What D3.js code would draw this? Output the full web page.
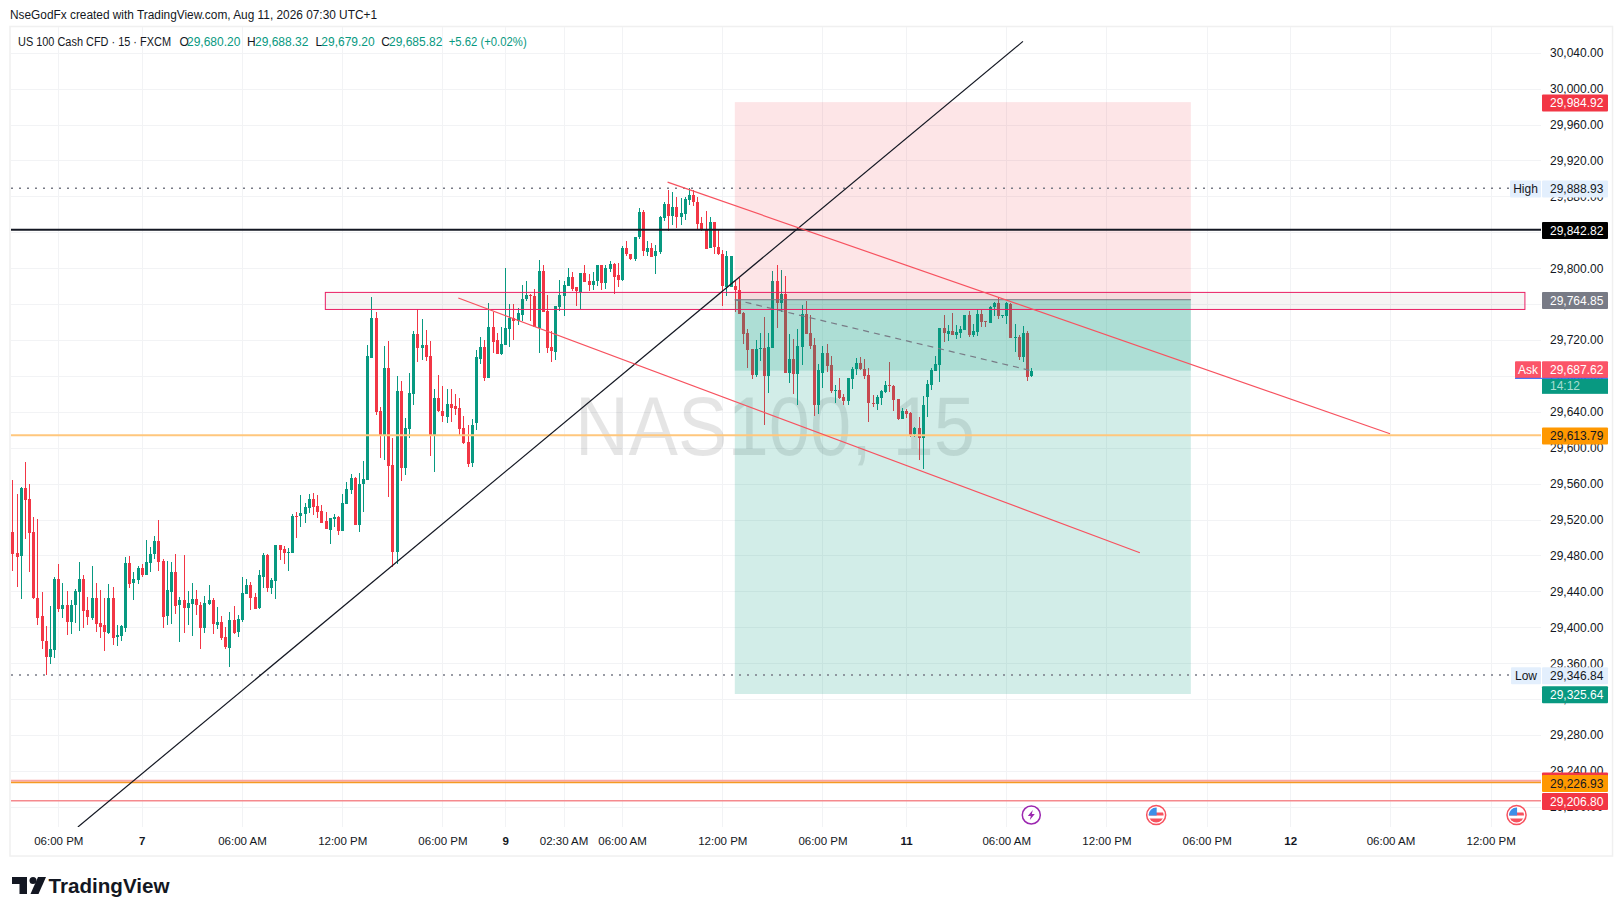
<html>
<head>
<style>
  body { margin: 0; background: #fff; }
  text { font-family: "Liberation Sans", sans-serif; }
</style>
</head>
<body>
<svg id="svg" width="1623" height="916"></svg>
<script src="https://d3js.org/d3.v7.min.js"></script>
<script>

// 15 minute candles, left to right
var opens = [
29506,29483,29479,29555,29543,29506,29433,29412,29385,29367,
29375,29454,29421,29425,29406,29424,29439,29454,29419,29411,
29433,29405,29402,29394,29433,29389,29390,29400,29472,29449,
29453,29466,29458,29472,29481,29496,29474,29412,29440,29462,
29424,29430,29421,29425,29431,29425,29399,29425,29430,29403,
29406,29389,29377,29408,29394,29408,29437,29447,29434,29421,
29457,29481,29444,29452,29492,29487,29483,29483,29524,29524,
29526,29533,29543,29535,29530,29518,29509,29521,29523,29507,
29537,29553,29566,29514,29559,29564,29701,29745,29641,29613,
29689,29581,29484,29663,29577,29621,29660,29727,29711,29714,
29702,29614,29655,29641,29635,29649,29646,29644,29622,29606,
29583,29628,29699,29712,29678,29735,29720,29704,29714,29732,
29744,29741,29748,29765,29770,29769,29734,29797,29752,29712,
29707,29757,29769,29780,29790,29779,29774,29795,29786,29781,
29785,29803,29783,29799,29805,29792,29786,29822,29816,29810,
29834,29862,29819,29823,29813,29818,29855,29871,29858,29868,
29857,29860,29875,29881,29874,29850,29844,29822,29851,29824,
29816,29780,29780,29780,29776,29750,29728,29710,29681,29710,
29711,29680,29711,29786,29761,29771,29683,29699,29682,29712,
29749,29728,29714,29647,29684,29706,29692,29663,29664,29657,
29652,29677,29687,29694,29688,29681,29650,29649,29655,29662,
29670,29669,29654,29632,29641,29639,29615,29622,29611,29657,
29670,29685,29692,29733,29727,29730,29726,29728,29731,29748,
29726,29729,29749,29741,29739,29757,29761,29747,29746,29760,
29722,29723,29701,29728,29680.2];

var closes = [
29482,29479,29555,29542,29505,29432,29411,29384,29367,29376,
29454,29421,29425,29406,29425,29440,29454,29418,29411,29433,
29404,29401,29394,29433,29389,29391,29401,29472,29449,29454,
29466,29458,29473,29482,29496,29473,29412,29441,29462,29424,
29430,29421,29427,29431,29424,29399,29427,29430,29403,29406,
29388,29378,29408,29394,29409,29438,29447,29433,29421,29458,
29481,29444,29453,29492,29486,29482,29484,29524,29523,29527,
29534,29543,29534,29528,29517,29509,29522,29523,29507,29538,
29554,29566,29514,29560,29565,29702,29745,29640,29613,29689,
29580,29484,29663,29577,29622,29661,29727,29711,29714,29701,
29614,29655,29640,29635,29649,29645,29643,29621,29605,29581,
29625,29701,29712,29678,29735,29718,29704,29715,29733,29744,
29741,29750,29766,29770,29769,29734,29797,29751,29711,29707,
29758,29770,29781,29790,29777,29774,29795,29785,29781,29786,
29803,29783,29800,29805,29791,29786,29822,29815,29810,29835,
29862,29819,29823,29813,29819,29857,29871,29858,29868,29857,
29861,29877,29881,29873,29849,29843,29822,29851,29823,29816,
29780,29814,29814,29775,29749,29727,29709,29681,29710,29711,
29680,29712,29786,29761,29771,29683,29699,29682,29713,29749,
29727,29713,29647,29686,29706,29691,29663,29664,29655,29652,
29678,29688,29694,29687,29680,29650,29649,29657,29663,29670,
29669,29653,29632,29641,29638,29615,29622,29611,29648,29671,
29687,29693,29733,29727,29730,29726,29729,29732,29748,29726,
29730,29749,29740,29740,29757,29761,29746,29748,29761,29722,
29723,29701,29728,29679,29685.82];

var highs = [
29564,29548,29556,29584,29560,29523,29521,29439,29401,29424,
29456,29471,29449,29440,29430,29443,29473,29458,29434,29468,
29449,29442,29433,29448,29445,29402,29402,29478,29479,29462,
29468,29470,29497,29489,29502,29519,29476,29474,29473,29482,
29434,29481,29440,29449,29442,29428,29435,29447,29433,29423,
29412,29400,29417,29424,29414,29456,29454,29450,29438,29464,
29483,29482,29455,29492,29492,29490,29488,29526,29528,29547,
29538,29548,29550,29547,29536,29528,29522,29526,29524,29548,
29562,29571,29567,29572,29585,29714,29768,29751,29645,29713,
29719,29611,29680,29674,29633,29683,29730,29755,29743,29731,
29719,29665,29681,29669,29665,29665,29660,29655,29635,29625,
29632,29709,29723,29720,29761,29751,29728,29734,29800,29760,
29760,29756,29781,29786,29771,29777,29809,29804,29770,29730,
29758,29787,29786,29800,29796,29779,29795,29804,29794,29796,
29803,29804,29803,29808,29806,29806,29825,29830,29816,29835,
29867,29865,29830,29828,29826,29858,29874,29887,29885,29879,
29878,29879,29888.93,29887,29879,29857,29864,29857,29851,29843,
29820,29819,29814,29786,29789,29751,29732,29710,29720,29728,
29746,29728,29797,29804,29798,29791,29727,29721,29732,29759,
29763,29748,29722,29693,29713,29716,29702,29670,29678,29660,
29678,29690,29700,29701,29699,29689,29659,29659,29664,29674,
29696,29670,29654,29644,29643,29640,29623,29634,29658,29675,
29689,29702,29733,29748,29737,29750,29737,29736,29748,29752,
29738,29755,29753,29741,29758,29762,29768,29748,29762,29761,
29738,29725,29736,29730,29688.32];

var lows = [
29463,29445,29432,29498,29462,29431,29403,29376,29346.84,29359,
29366,29417,29410,29391,29392,29405,29396,29399,29403,29408,
29395,29388,29373,29393,29380,29379,29385,29395,29444,29430,
29448,29456,29458,29462,29476,29463,29399,29402,29404,29415,
29384,29394,29403,29390,29414,29376,29394,29425,29392,29398,
29386,29376,29356,29393,29389,29406,29437,29419,29421,29420,
29444,29439,29437,29432,29475,29470,29463,29483,29499,29512,
29516,29527,29525,29522,29517,29509,29493,29512,29503,29507,
29537,29548,29514,29506,29528,29564,29701,29636,29589,29586,
29545,29467,29470,29563,29570,29611,29648,29696,29698,29697,
29591,29573,29640,29629,29628,29629,29636,29614,29604,29578,
29578,29620,29693,29674,29678,29705,29704,29703,29714,29712,
29720,29737,29741,29763,29741,29734,29706,29751,29706,29695,
29698,29752,29747,29780,29775,29758,29755,29785,29774,29776,
29780,29776,29777,29796,29771,29779,29786,29813,29809,29808,
29833,29813,29813,29812,29793,29816,29853,29841,29848,29845,
29848,29854,29870,29869,29842,29841,29822,29822,29816,29815,
29758,29769,29779,29751,29749,29716,29689,29677,29679,29697,
29625,29661,29711,29733,29751,29683,29672,29660,29648,29692,
29727,29710,29635,29638,29667,29684,29661,29650,29654,29648,
29648,29665,29681,29686,29676,29629,29645,29642,29648,29661,
29662,29641,29631,29632,29633,29612,29612,29586,29576,29634,
29664,29685,29673,29718,29719,29726,29721,29722,29731,29723,
29723,29724,29734,29734,29739,29747,29743,29745,29738,29722,
29707,29698,29695,29674,29679.2];

var priceTicks = d3.range(29200, 30041, 40);

var timeIdx = [11,31,55,79,103,118,132,146,170,194,214,238,262,286,306,330,354];
var timeLabels = ["06:00 PM","7","06:00 AM","12:00 PM","06:00 PM","9","02:30 AM","06:00 AM","12:00 PM","06:00 PM","11","06:00 AM","12:00 PM","06:00 PM","12","06:00 AM","12:00 PM"];
var dateLabels = ["7","9","11","12"];

// drawings, as [bar index, price]
var blackTrend = [[15.7,29177.5],[242,30052.6]];
var upperChannel = [[156.9,29895.8],[329.9,29615.6]];
var lowerChannel = [[106.8,29766.7],[270,29483]];
var zoneBars = [74.95,362.2];
var zonePrices = [29773,29754];
var posBars = [173,282.2];
var posEntry = 29764.85, posStop = 29984.92, posTarget = 29325.64;
var lastClose = 29685.82;
var eventBars = [244,273.9,360.2];

var hLines = [
  {p:29888.93, c:"#787b86", w:1.5, dash:"2,6"},
  {p:29346.84, c:"#787b86", w:1.5, dash:"2,6"},
  {p:29842.82, c:"#131722", w:2},
  {p:29613.79, c:"#ffc77d", w:2},
  {p:29229, c:"#f9a5a5", w:2},
  {p:29226.93, c:"#f59a23", w:1.5},
  {p:29206.8, c:"#f58a8e", w:1.5}
];

var priceBoxes = [
  {p:29984.92, t:"29,984.92", bg:"#f23645", fg:"#fff"},
  {p:29888.93, t:"29,888.93", bg:"#e3effd", fg:"#131722"},
  {p:29842.82, t:"29,842.82", bg:"#000", fg:"#fff"},
  {p:29764.85, t:"29,764.85", bg:"#787b86", fg:"#fff"},
  {p:29687.62, t:"29,687.62", bg:"#fb5468", fg:"#fff"},
  {p:29613.79, t:"29,613.79", bg:"#ff9800", fg:"#131722"},
  {p:29346.84, t:"29,346.84", bg:"#e3effd", fg:"#131722"},
  {p:29325.64, t:"29,325.64", bg:"#089981", fg:"#fff"},
  {p:29229.5, t:"", bg:"#f23645", fg:"#fff"},
  {p:29226.93, t:"29,226.93", bg:"#ff9800", fg:"#131722"},
  {p:29206.80, t:"29,206.80", bg:"#f23645", fg:"#fff"}
];
var sideTags = [
  {p:29888.93, t:"High", bg:"#e3effd", fg:"#131722", w:31},
  {p:29346.84, t:"Low", bg:"#e3effd", fg:"#131722", w:30},
  {p:29687.62, t:"Ask", bg:"#fb5468", fg:"#fff", w:26}
];

var UP = "#089981", DOWN = "#f23645";
var paneL = 11, paneR = 1541, paneT = 27, paneB = 827;

var x = d3.scaleLinear().domain([0,244]).range([12.33,1031.3]);
var y = d3.scaleLinear().domain([30040,29200]).range([52.7,806.8]);
var svg = d3.select("#svg");

// frame
svg.append("rect").attr("x",10).attr("y",26.5).attr("width",1602.5).attr("height",829.5)
  .attr("fill","#fff").attr("stroke","#f0f0f0").attr("stroke-width",1.5);

svg.append("clipPath").attr("id","pane").append("rect")
  .attr("x",paneL).attr("y",paneT).attr("width",paneR-paneL).attr("height",paneB-paneT);

var pane = svg.append("g").attr("clip-path","url(#pane)");

// grid
pane.selectAll("line.gy").data(priceTicks).join("line").classed("gy",true)
  .attr("x1",paneL).attr("x2",paneR).attr("y1",d=>Math.round(y(d))+0.5).attr("y2",d=>Math.round(y(d))+0.5)
  .attr("stroke","#f2f3f5");
pane.selectAll("line.gx").data(timeIdx).join("line").classed("gx",true)
  .attr("y1",paneT).attr("y2",paneB).attr("x1",d=>Math.round(x(d))+0.5).attr("x2",d=>Math.round(x(d))+0.5)
  .attr("stroke","#f2f3f5");

// watermark
pane.append("text").attr("x",775).attr("y",455).attr("text-anchor","middle")
  .attr("font-size",84).attr("textLength",400).attr("lengthAdjust","spacingAndGlyphs")
  .attr("fill","#000").attr("fill-opacity",0.1).text("NAS100, 15");

// candles
var bars = pane.selectAll("g.bar").data(opens).join("g").classed("bar",true)
  .attr("shape-rendering","crispEdges");
bars.append("line")
  .attr("x1",(d,i)=>Math.round(x(i))+0.5).attr("x2",(d,i)=>Math.round(x(i))+0.5)
  .attr("y1",(d,i)=>y(highs[i])).attr("y2",(d,i)=>y(lows[i]))
  .attr("stroke",(d,i)=>closes[i]>=d?UP:DOWN);
bars.append("rect")
  .attr("x",(d,i)=>Math.round(x(i))-1).attr("width",3)
  .attr("y",(d,i)=>Math.round(y(Math.max(d,closes[i]))))
  .attr("height",(d,i)=>Math.max(1,Math.round(Math.abs(y(d)-y(closes[i])))))
  .attr("fill",(d,i)=>closes[i]>=d?UP:DOWN);

// position tool
function band(p1,p2,fill) {
  pane.append("rect").attr("x",x(posBars[0])).attr("width",x(posBars[1])-x(posBars[0]))
    .attr("y",y(p1)).attr("height",y(p2)-y(p1)).attr("fill",fill);
}
band(posStop,posEntry,"rgba(242,54,69,0.13)");
band(posEntry,posTarget,"rgba(8,153,129,0.18)");
band(posEntry,lastClose,"rgba(8,153,129,0.18)");
pane.append("line").attr("x1",x(posBars[0])).attr("x2",x(posBars[1]))
  .attr("y1",y(posEntry)).attr("y2",y(posEntry)).attr("stroke","#787b86");
pane.append("line").attr("x1",x(posBars[0])).attr("x2",x(244))
  .attr("y1",y(posEntry)).attr("y2",y(lastClose))
  .attr("stroke","#787b86").attr("stroke-width",1.2).attr("stroke-dasharray","6,5");

// zone
pane.append("rect").attr("x",x(zoneBars[0])).attr("width",x(zoneBars[1])-x(zoneBars[0]))
  .attr("y",y(zonePrices[0])).attr("height",y(zonePrices[1])-y(zonePrices[0]))
  .attr("fill","rgba(110,70,70,0.06)").attr("stroke","#e91e63");

// horizontal levels
pane.selectAll("line.lvl").data(hLines).join("line").classed("lvl",true)
  .attr("x1",paneL).attr("x2",paneR).attr("y1",d=>y(d.p)).attr("y2",d=>y(d.p))
  .attr("stroke",d=>d.c).attr("stroke-width",d=>d.w).attr("stroke-dasharray",d=>d.dash||null);

// trend lines
var seg = d3.line().x(d=>x(d[0])).y(d=>y(d[1]));
pane.append("path").attr("d",seg(blackTrend)).attr("fill","none").attr("stroke","#131722").attr("stroke-width",1.2);
pane.append("path").attr("d",seg(upperChannel)).attr("fill","none").attr("stroke","#f7525f").attr("stroke-width",1.2);
pane.append("path").attr("d",seg(lowerChannel)).attr("fill","none").attr("stroke","#f7525f").attr("stroke-width",1.2);

// event marks on the time row
svg.append("clipPath").attr("id","flag").append("circle").attr("r",7.5);
eventBars.forEach(function(b,k) {
  var g = svg.append("g").attr("transform","translate("+x(b)+",815)");
  if (k == 0) {
    g.append("circle").attr("r",9).attr("fill","#fff").attr("stroke","#9c27b0").attr("stroke-width",1.5);
    g.append("path").attr("d","M1.5,-5 L-3.5,1 L-0.5,1 L-1.5,5 L3.5,-1 L0.5,-1 Z").attr("fill","#9c27b0");
  } else {
    g.append("circle").attr("r",9.5).attr("fill","#fff").attr("stroke","#f7525f").attr("stroke-width",1.5);
    var f = g.append("g").attr("clip-path","url(#flag)");
    f.append("rect").attr("x",-8).attr("y",-8).attr("width",16).attr("height",16).attr("fill","#fff");
    f.append("rect").attr("x",-8).attr("y",-2.5).attr("width",16).attr("height",3).attr("fill","#f7525f");
    f.append("rect").attr("x",-8).attr("y",3.5).attr("width",16).attr("height",4.5).attr("fill","#f7525f");
    f.append("rect").attr("x",-8).attr("y",-8).attr("width",8.5).attr("height",8.5).attr("fill","#3d8fe8");
  }
});

// price axis
var yAxis = svg.append("g").attr("transform","translate(1550,0)")
  .call(d3.axisRight(y).tickValues(priceTicks).tickFormat(d3.format(",.2f")).tickSize(0).tickPadding(0));
yAxis.select(".domain").remove();
yAxis.selectAll("text").attr("font-size",12).attr("font-family","Liberation Sans").attr("fill","#131722");

// time axis
var xAxis = svg.append("g").attr("transform","translate(0,837)")
  .call(d3.axisBottom(x).tickValues(timeIdx).tickFormat((d,i)=>timeLabels[i]).tickSize(0).tickPadding(0));
xAxis.select(".domain").remove();
xAxis.selectAll("text").attr("font-size",11.5).attr("font-family","Liberation Sans").attr("fill","#131722")
  .attr("font-weight",(d,i)=>dateLabels.includes(timeLabels[i])?"bold":null);

// price labels
var boxes = svg.selectAll("g.pb").data(priceBoxes).join("g").classed("pb",true)
  .attr("transform",d=>"translate(1542,"+(y(d.p)+0.8)+")");
boxes.append("rect").attr("y",-8.5).attr("width",66).attr("height",17).attr("rx",1).attr("fill",d=>d.bg);
boxes.append("text").attr("x",8).attr("y",4.2).attr("font-size",12).attr("fill",d=>d.fg).text(d=>d.t);

var tags = svg.selectAll("g.tag").data(sideTags).join("g").classed("tag",true)
  .attr("transform",d=>"translate("+(1541-d.w)+","+(y(d.p)+0.8)+")");
tags.append("rect").attr("y",-8.5).attr("width",d=>d.w).attr("height",17).attr("rx",1).attr("fill",d=>d.bg);
tags.append("text").attr("x",d=>d.w/2).attr("y",4.2).attr("text-anchor","middle").attr("font-size",12)
  .attr("fill",d=>d.fg).text(d=>d.t);

// countdown under the ask label
var askY = y(29687.62)+0.8;
svg.append("rect").attr("x",1515).attr("y",askY+8).attr("width",93).attr("height",1).attr("fill","#2962ff");
svg.append("rect").attr("x",1542).attr("y",askY+9).attr("width",66).attr("height",15).attr("fill",UP);
svg.append("text").attr("x",1550).attr("y",askY+20).attr("font-size",12).attr("fill","#a8dfd2").text("14:12");

// header
svg.append("text").attr("x",10).attr("y",19).attr("font-size",12).attr("fill","#131722")
  .attr("textLength",367).attr("lengthAdjust","spacingAndGlyphs")
  .text("NseGodFx created with TradingView.com, Aug 11, 2026 07:30 UTC+1");

var legendDark = [["US 100 Cash CFD \u00b7 15 \u00b7 FXCM",18,153],["O",179.4],["H",247],["L",315.4],["C",381.2]];
var legendGreen = [["29,680.20",187],["29,688.32",255],["29,679.20",321.3],["29,685.82",389],["+5.62 (+0.02%)",448.7,78]];
svg.selectAll("text.ld").data(legendDark).join("text").classed("ld",true)
  .attr("x",d=>d[1]).attr("y",46).attr("font-size",12).attr("fill","#131722")
  .attr("textLength",d=>d[2]||null).attr("lengthAdjust","spacingAndGlyphs").text(d=>d[0]);
svg.selectAll("text.lg").data(legendGreen).join("text").classed("lg",true)
  .attr("x",d=>d[1]).attr("y",46).attr("font-size",12).attr("fill",UP)
  .attr("textLength",d=>d[2]||null).attr("lengthAdjust","spacingAndGlyphs").text(d=>d[0]);

// logo
var logo = svg.append("g").attr("fill","#131722").attr("transform","translate(0,-1)");
logo.append("path").attr("d","M12,878 H27 V895 H19.5 V885 H12 Z");
logo.append("circle").attr("cx",33).attr("cy",881.5).attr("r",3.5);
logo.append("path").attr("d","M38,878 H46 L38.5,895 H30.5 Z");
svg.append("text").attr("x",48.5).attr("y",893).attr("font-family","Inter").attr("font-weight",600)
  .attr("font-size",21).attr("textLength",121).attr("lengthAdjust","spacingAndGlyphs")
  .attr("fill","#131722").text("TradingView");

</script>
</body>
</html>
